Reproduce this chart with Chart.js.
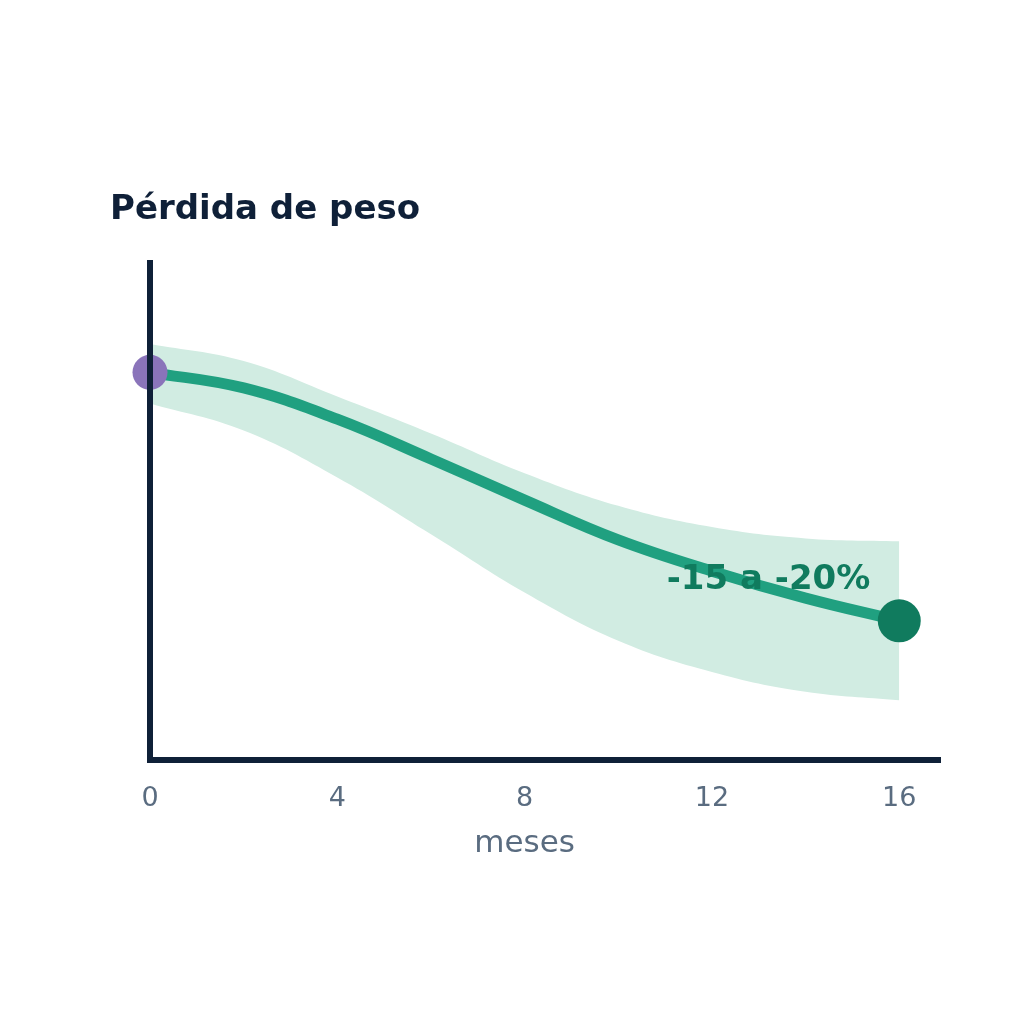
<!DOCTYPE html>
<html>
<head>
<meta charset="utf-8">
<script src="https://cdn.jsdelivr.net/npm/chart.js@4.4.1/dist/chart.umd.min.js"></script>
<style>
  html, body { margin: 0; padding: 0; background: #ffffff; }
  #wrap { width: 1024px; height: 1024px; }
</style>
</head>
<body>
<div id="wrap"><canvas id="weightChart" width="1024" height="1024"></canvas></div>
<script>
// Weight change (%), every 2 months
const months = [0, 2, 4, 6, 8, 10, 12, 14, 16];
const meanChange = [0, -1.1, -3.3, -6.1, -9.0, -11.8, -14.0, -15.9, -17.5];
const upperBound = [2.0, 0.8, -1.7, -4.3, -7.1, -9.4, -10.9, -11.7, -11.9];
const lowerBound = [-2.2, -4.1, -7.4, -11.4, -15.5, -18.9, -21.1, -22.5, -23.1];
const xTicks = [0, 4, 8, 12, 16];
const endLabel = '-15 a -20%';
const xAxisLabel = 'meses';

const NAVY = '#0f2038';
const GREY = '#5a6c80';
const LINE = '#20a080';
const DARK_GREEN = '#107b5e';
const PURPLE = '#8a74ba';
const BAND = '#d1ece2';

const toPoints = (values) => months.map((m, i) => ({ x: m, y: values[i] }));

// annotation next to the last point + axis label centred under the data range
const labelsPlugin = {
    id: 'labels',
    afterDatasetsDraw(chart) {
        const meta = chart.getDatasetMeta(0);
        const last = meta.data[meta.data.length - 1];
        const ctx = chart.ctx;
        ctx.save();
        ctx.font = 'bold 34px "DejaVu Sans"';
        ctx.fillStyle = DARK_GREEN;
        ctx.textAlign = 'right';
        ctx.textBaseline = 'alphabetic';
        ctx.fillText(endLabel, last.x - 29, last.y - 32);
        ctx.restore();
    },
    afterDraw(chart) {
        const x = chart.scales.x;
        const mid = (x.getPixelForValue(months[0]) + x.getPixelForValue(months[months.length - 1])) / 2;
        const ctx = chart.ctx;
        ctx.save();
        ctx.font = '31px "DejaVu Sans"';
        ctx.fillStyle = GREY;
        ctx.textAlign = 'center';
        ctx.textBaseline = 'alphabetic';
        ctx.fillText(xAxisLabel, mid, chart.chartArea.bottom + 92);
        ctx.restore();
    }
};

const ctx = document.getElementById('weightChart').getContext('2d');
const lastIndex = months.length - 1;

new Chart(ctx, {
    type: 'line',
    data: {
        datasets: [{
            // mean curve, drawn on top
            data: toPoints(meanChange),
            borderColor: LINE,
            borderWidth: 11,
            tension: 0.4,
            fill: false,
            clip: false,
            pointRadius: (c) => c.dataIndex === 0 ? 17.5 : (c.dataIndex === lastIndex ? 21.5 : 0),
            pointBackgroundColor: (c) => c.dataIndex === 0 ? PURPLE : DARK_GREEN,
            pointBorderWidth: 0,
            pointHoverRadius: 0
        }, {
            data: toPoints(upperBound),
            borderWidth: 0,
            borderColor: 'rgba(0,0,0,0)',
            backgroundColor: BAND,
            tension: 0.4,
            fill: '+1',
            pointRadius: 0
        }, {
            data: toPoints(lowerBound),
            borderWidth: 0,
            borderColor: 'rgba(0,0,0,0)',
            tension: 0.4,
            fill: false,
            pointRadius: 0
        }]
    },
    options: {
        responsive: false,
        animation: false,
        devicePixelRatio: 1,
        layout: {
            padding: { left: 110, right: 84, top: 190, bottom: 185.6 }
        },
        scales: {
            x: {
                type: 'linear',
                min: 0,
                max: 16.87,
                afterBuildTicks: function (scale) {
                    scale.ticks = xTicks.map(v => ({ value: v }));
                },
                grid: { display: false, drawTicks: false },
                border: { display: true, color: NAVY, width: 6, z: 1 },
                ticks: {
                    padding: 23,
                    color: GREY,
                    font: { family: 'DejaVu Sans', size: 27 }
                }
            },
            y: {
                min: -27.3,
                max: 7.7,
                afterFit: function (scale) {
                    scale.width = 40;
                },
                grid: { display: false, drawTicks: false },
                border: { display: true, color: NAVY, width: 6, z: 1 },
                ticks: { display: false }
            }
        },
        plugins: {
            legend: { display: false },
            tooltip: { enabled: false },
            title: {
                display: true,
                text: 'Pérdida de peso',
                align: 'start',
                color: NAVY,
                font: { family: 'DejaVu Sans', size: 34, weight: 'bold' },
                padding: { top: 0, bottom: 32.2 }
            }
        }
    },
    plugins: [labelsPlugin]
});
</script>
</body>
</html>
